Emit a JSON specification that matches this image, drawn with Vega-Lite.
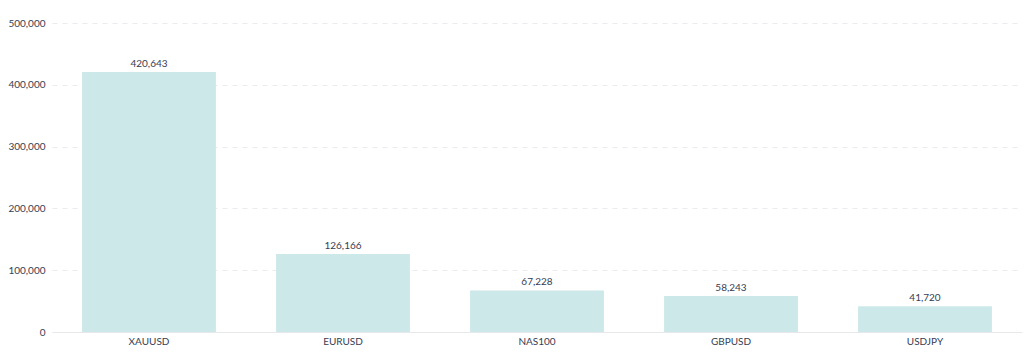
{
  "$schema": "https://vega.github.io/schema/vega-lite/v6.json",
  "autosize": {"type": "none"},
  "width": 970,
  "height": 309,
  "padding": {"left": 52, "top": 23, "right": 2, "bottom": 28},
  "background": "#ffffff",
  "config": {
    "view": {"stroke": null},
    "font": "Lato",
    "axis": {"labelFont": "Lato", "labelColor": "#363d52", "labelFontSize": 10}
  },
  "data": {
    "values": [
      {"symbol": "XAUUSD", "value": 420643},
      {"symbol": "EURUSD", "value": 126166},
      {"symbol": "NAS100", "value": 67228},
      {"symbol": "GBPUSD", "value": 58243},
      {"symbol": "USDJPY", "value": 41720}
    ]
  },
  "encoding": {
    "x": {
      "field": "symbol", "type": "nominal", "sort": null,
      "scale": {"paddingInner": 0.31, "paddingOuter": 0.155},
      "axis": {"title": null, "labelAngle": 0, "ticks": false, "domainColor": "#e6e8eb", "labelPadding": 4}
    },
    "y": {
      "field": "value", "type": "quantitative",
      "scale": {"domain": [0, 500000]},
      "axis": {"title": null, "values": [0, 100000, 200000, 300000, 400000, 500000], "format": ",d", "ticks": false, "domain": false, "gridColor": "#e9ebee", "gridDash": [5, 5], "labelPadding": 7}
    }
  },
  "layer": [
    {"mark": {"type": "bar", "color": "#cde8e9"}},
    {"mark": {"type": "text", "baseline": "bottom", "dy": -3, "fontSize": 10, "color": "#363d52", "font": "Lato"},
     "encoding": {"text": {"field": "value", "type": "quantitative", "format": ",d"}}}
  ]
}
